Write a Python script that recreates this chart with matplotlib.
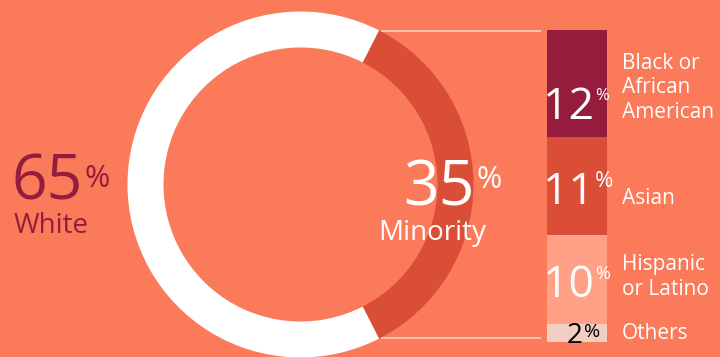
import matplotlib.pyplot as plt
import numpy as np

plt.rcParams['font.family'] = ['Open Sans', 'DejaVu Sans']

# overall split
split_labels = ['Minority', 'White']
split_values = [35, 65]

# breakdown of the minority share
groups = ['Black or\nAfrican\nAmerican', 'Asian', 'Hispanic\nor Latino', 'Others']
group_values = [12, 11, 10, 2]

BG = '#FA7A5A'
RED = '#DA4E38'
MAROON = '#961C3D'
group_colors = [MAROON, RED, '#FFA087', '#F2CEC2']
group_text = ['white', 'white', 'white', 'black']
num_size = [32, 32, 32, 20]
pct_size = [12, 16, 13, 14]

# label nudges, in bar units
num_shift = [4.0, 2.0, 1.95, 1.1]
name_shift = [0.5, 1.4, -0.3, 0.0]
num_right = [0.78, 0.78, 0.78, 0.60]
pct_rise = [14, 12, 13, 4]

W, H = 720, 357
cx, cy, r_out, ring = 300.5, 184.5, 173, 36

fig = plt.figure(figsize=(W / 100, H / 100), dpi=100, facecolor=BG)
ax = fig.add_axes([0, 0, 1, 1])
ax.set_facecolor(BG)

half = 360 * split_values[0] / sum(split_values) / 2
ax.pie(split_values, colors=[RED, 'white'], startangle=-half, radius=r_out,
       center=(cx, cy), wedgeprops=dict(width=ring, linewidth=0))
ax.set_xlim(0, W)
ax.set_ylim(H, 0)
ax.axis('off')

# connectors from the minority wedge to the bar
bar_left, bar_top, bar_bottom, bar_w = 547, 30, 342, 60
a = np.radians(half)
x0 = cx + r_out * np.cos(a) + 2
for sgn in (-1, 1):
    y0 = cy + sgn * (r_out * np.sin(a) - 1)
    ax.plot([x0, bar_left - 6], [y0, y0], color='#FBC9B9', lw=1.3,
            solid_capstyle='butt')


def pct_text(axis, x, y, num, size, psize, rise, color, **kw):
    axis.text(x, y, num, ha='right', va='baseline', fontsize=size,
              color=color, **kw)
    axis.annotate('%', xy=(x, y), xycoords=kw.get('transform', axis.transData),
                  xytext=(1, rise), textcoords='offset points', ha='left',
                  va='baseline', fontsize=psize, color=color)


pct_text(ax, 83, 200, str(split_values[1]), 45, 22, 9.5, MAROON)
ax.text(14, 233, split_labels[1], ha='left', va='baseline', fontsize=20,
        color=MAROON)
pct_text(ax, 475, 205, str(split_values[0]), 45, 22, 12.5, 'white')
ax.text(432, 240, split_labels[0], ha='center', va='baseline', fontsize=20,
        color='white')

# stacked bar
bax = fig.add_axes([bar_left / W, (H - bar_bottom) / H, bar_w / W,
                    (bar_bottom - bar_top) / H])
bax.patch.set_alpha(0)
bottom = 0
for i, (name, v) in enumerate(zip(groups, group_values)):
    bax.bar(0.5, v, width=1, bottom=bottom, color=group_colors[i], linewidth=0)
    mid = bottom + v / 2
    pct_text(bax, num_right[i], mid + num_shift[i], str(v), num_size[i],
             pct_size[i], pct_rise[i], group_text[i])
    bax.text(1.25, mid + name_shift[i], name, ha='left', va='center',
             fontsize=15, color='white', linespacing=1.2)
    bottom += v
bax.set_xlim(0, 1)
bax.set_ylim(sum(group_values), 0)
bax.axis('off')

fig.savefig('out.png', dpi=100, facecolor=BG)
